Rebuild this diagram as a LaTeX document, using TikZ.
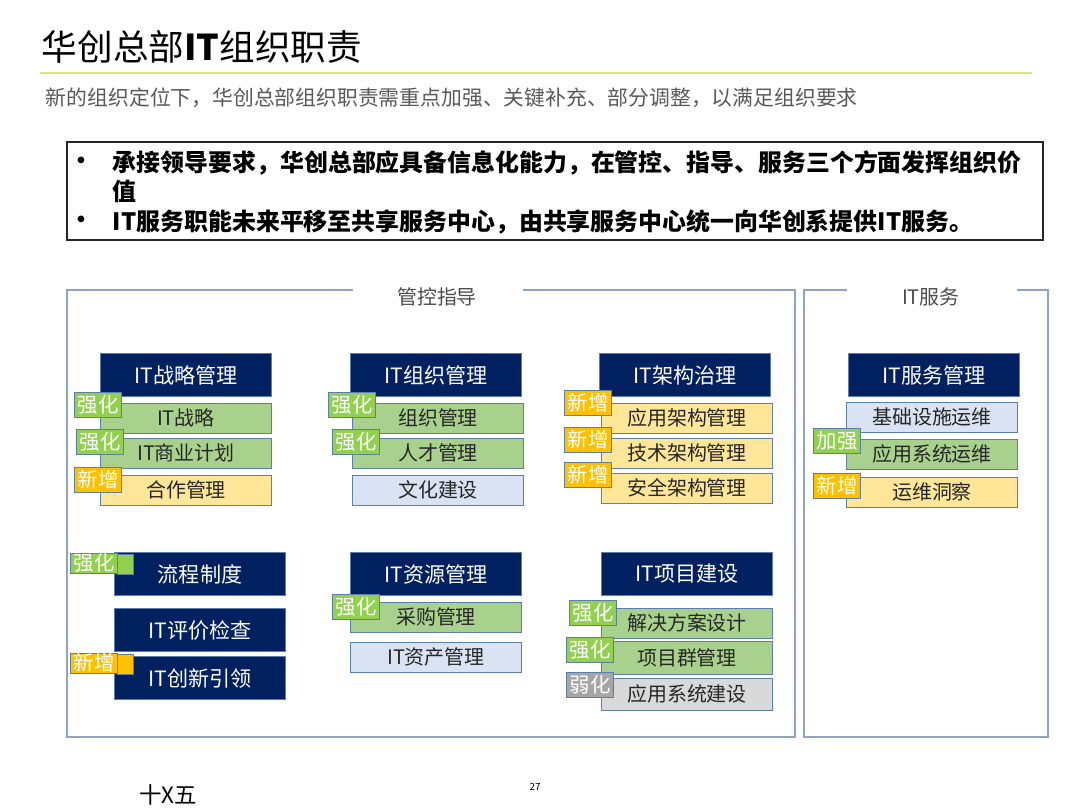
\documentclass[tikz,border=0pt]{standalone}
\usepackage{fontspec}
\setmainfont{Noto Sans CJK SC}
\usetikzlibrary{positioning}
\definecolor{hnavy}{HTML}{002060}
\definecolor{hgreen}{HTML}{A9D18E}
\definecolor{tgreen}{HTML}{92D050}
\definecolor{hyellow}{HTML}{FFE699}
\definecolor{torange}{HTML}{FFC000}
\definecolor{hblue}{HTML}{DAE3F3}
\definecolor{hgrey}{HTML}{D9D9D9}
\definecolor{tgrey}{HTML}{A6A6A6}
\definecolor{hedge}{HTML}{5B7FA8}
\definecolor{hframe}{HTML}{8EA4C2}
\definecolor{hline}{HTML}{E6DF7A}

\begin{document}
\begin{tikzpicture}[x=0.025cm, y=-0.025cm,
  hd/.style={draw=hedge, fill=hnavy, text=white, inner sep=0pt, minimum width=4.275cm, minimum height=1.075cm, font=\fontsize{15}{18}\selectfont},
  sb/.style={draw=hedge, inner sep=0pt, minimum width=4.275cm, minimum height=0.75cm, text=black!85, font=\fontsize{14.2}{17}\selectfont},
  tg/.style={draw=hedge, text=white, inner sep=0pt, minimum width=1.175cm, minimum height=0.625cm, font=\fontsize{14.5}{17}\selectfont},
  sq/.style={draw=hedge, inner sep=0pt, minimum width=0.4cm, minimum height=0.5cm},
  frm/.style={draw=hframe, line width=1.2pt},
  lbl/.style={text=black!70, font=\fontsize{14.2}{17}\selectfont},
  pt/.style={anchor=west, font=\fontsize{17}{20}\selectfont\bfseries}]
\clip (0,0) rectangle (1080,810);
\fill[white] (0,0) rectangle (1080,810);
% heading
\node[anchor=west, font=\fontsize{25.3}{30}\selectfont] (ttl) at (37,47) {华创总部\textbf{IT}组织职责};
\draw[hline, line width=1pt] (40,73) -- (1032,73);
\node[anchor=west, text=black!65, font=\fontsize{14.8}{18}\selectfont] (sub) at (41,98) {新的组织定位下，华创总部组织职责需重点加强、关键补充、部分调整，以满足组织要求};
% key points
\draw[black!85, line width=0.8pt] (67,142) rectangle (1043,240);
\node[font=\fontsize{17}{20}\selectfont\bfseries] (d1) at (81,163) {•};
\node[font=\fontsize{17}{20}\selectfont\bfseries] (d2) at (81,222) {•};
\node[pt] (p1) at (108,163) {承接领导要求，华创总部应具备信息化能力，在管控、指导、服务三个方面发挥组织价};
\node[pt] (p1b) at (108,191) {值};
\node[pt] (p2) at (108,222) {IT服务职能未来平移至共享服务中心，由共享服务中心统一向华创系提供IT服务。};
% frames
\draw[frm] (353,290) -- (67,290) -- (67,737) -- (795,737) -- (795,290) -- (523,290);
\node[lbl] (f1) at (437,297) {管控指导};
\draw[frm] (847,290) -- (804,290) -- (804,737) -- (1048,737) -- (1048,290) -- (1017,290);
\node[lbl] (f2) at (931,297) {IT服务};
% IT战略管理
\node[hd] (h1) at (186,375) {IT战略管理};
\node[sb, fill=hgreen] (s11) at (186,418) {IT战略};
\node[sb, fill=hgreen] (s12) at (186,453) {IT商业计划};
\node[sb, fill=hyellow] (s13) at (186,490) {合作管理};
\node[tg, fill=tgreen] (t11) at (98,405) {强化};
\node[tg, fill=tgreen] (t12) at (100,442) {强化};
\node[tg, fill=torange] (t13) at (98,480) {新增};
% IT组织管理
\node[hd] (h2) at (436,375) {IT组织管理};
\node[sb, fill=hgreen] (s21) at (438,418) {组织管理};
\node[sb, fill=hgreen] (s22) at (438,453) {人才管理};
\node[sb, fill=hblue] (s23) at (438,490) {文化建设};
\node[tg, fill=tgreen] (t21) at (352,405) {强化};
\node[tg, fill=tgreen] (t22) at (356,442) {强化};
% IT架构治理
\node[hd] (h3) at (685,375) {IT架构治理};
\node[sb, fill=hyellow] (s31) at (687,418) {应用架构管理};
\node[sb, fill=hyellow] (s32) at (687,453) {技术架构管理};
\node[sb, fill=hyellow] (s33) at (687,488) {安全架构管理};
\node[tg, fill=torange] (t31) at (588,403) {新增};
\node[tg, fill=torange] (t32) at (588,440) {新增};
\node[tg, fill=torange] (t33) at (588,475) {新增};
% IT服务管理
\node[hd] (h4) at (934,375) {IT服务管理};
\node[sb, fill=hblue] (s41) at (932,417) {基础设施运维};
\node[sb, fill=hgreen] (s42) at (932,454) {应用系统运维};
\node[sb, fill=hyellow] (s43) at (932,492) {运维洞察};
\node[tg, fill=tgreen] (t42) at (837,441) {加强};
\node[tg, fill=torange] (t43) at (837,486) {新增};
% second row, left
\node[hd] (r1) at (200,574) {流程制度};
\node[hd] (r2) at (200,630) {IT评价检查};
\node[hd] (r3) at (200,678) {IT创新引领};
\node[sq, fill=tgreen] (q1) at (125,564) {};
\node[sq, fill=torange] (q2) at (125,664) {};
\node[tg, fill=tgreen, minimum height=0.5cm] (u1) at (94,563) {强化};
\node[tg, fill=torange, minimum height=0.5cm] (u2) at (94,663) {新增};
% IT资源管理
\node[hd] (h5) at (436,574) {IT资源管理};
\node[sb, fill=hgreen] (s51) at (436,617) {采购管理};
\node[sb, fill=hblue] (s52) at (436,657) {IT资产管理};
\node[tg, fill=tgreen] (t51) at (356,607) {强化};
% IT项目建设
\node[hd] (h6) at (687,574) {IT项目建设};
\node[sb, fill=hgreen] (s61) at (687,623) {解决方案设计};
\node[sb, fill=hgreen, minimum height=0.825cm] (s62) at (687,658) {项目群管理};
\node[sb, fill=hgrey, minimum height=0.8cm] (s63) at (687,694) {应用系统建设};
\node[tg, fill=tgreen] (t61) at (593,613) {强化};
\node[tg, fill=tgreen] (t62) at (590,650) {强化};
\node[tg, fill=tgrey] (t63) at (590,685) {弱化};
% footer
\node[font=\fontsize{7}{8}\selectfont] (pg) at (535,787) {27};
\node[font=\fontsize{16}{18}\selectfont] (ft) at (168,795) {十X五};
\end{tikzpicture}
\end{document}
